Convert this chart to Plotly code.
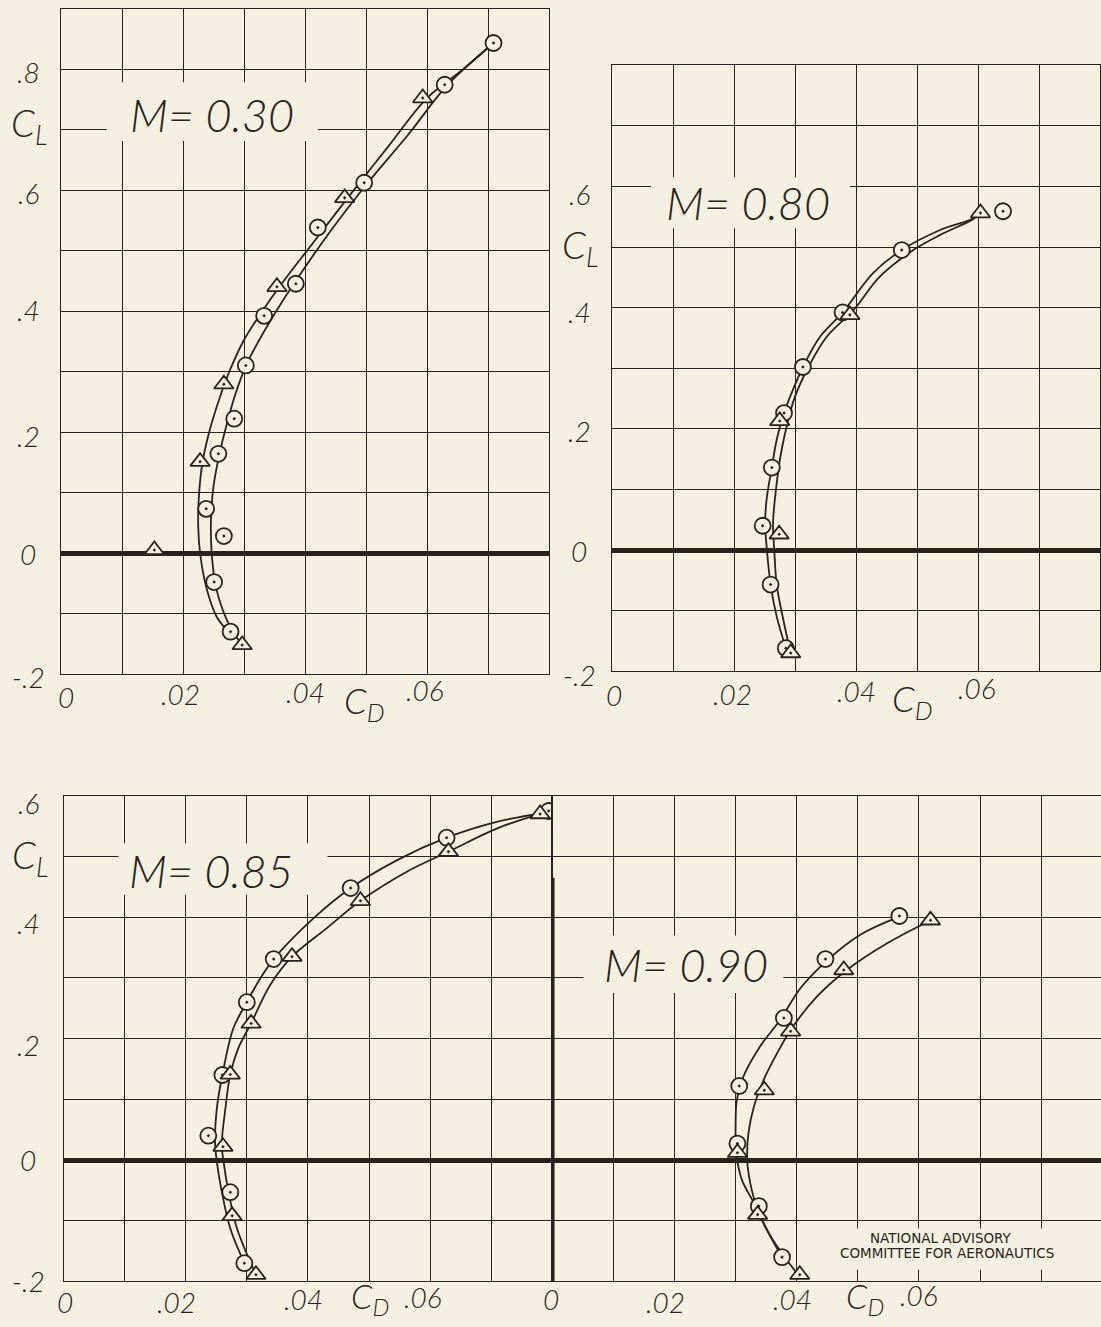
import plotly.graph_objects as go

W, H = 1101, 1327
BG = "#F5F1E2"
INK = "#272420"

# ---------------- M = 0.30 ----------------
m30_circle_cd = [0.0278, 0.0251, 0.0267, 0.0238, 0.0258, 0.0284, 0.0303, 0.0333, 0.0385, 0.0421, 0.0497, 0.0629, 0.0709]
m30_circle_cl = [-0.130, -0.048, 0.028, 0.073, 0.164, 0.222, 0.310, 0.392, 0.445, 0.538, 0.612, 0.774, 0.843]
m30_tri_cd = [0.0297, 0.0153, 0.0228, 0.0267, 0.0354, 0.0465, 0.0593]
m30_tri_cl = [-0.152, 0.005, 0.151, 0.279, 0.440, 0.587, 0.752]
m30_fair_a_cd = [0.0709, 0.0660, 0.0600, 0.0535, 0.0470, 0.0415, 0.0358, 0.0327, 0.0300, 0.0276, 0.0258, 0.0243, 0.0232, 0.0226, 0.0225, 0.0228, 0.0238, 0.0255, 0.0274]
m30_fair_a_cl = [0.843, 0.800, 0.752, 0.670, 0.587, 0.515, 0.440, 0.395, 0.352, 0.300, 0.250, 0.200, 0.150, 0.093, 0.043, 0.0, -0.056, -0.105, -0.130]
m30_fair_b_cd = [0.0709, 0.0634, 0.0568, 0.0503, 0.0444, 0.0385, 0.0353, 0.0325, 0.0303, 0.0285, 0.0271, 0.0259, 0.0250, 0.0246, 0.0247, 0.0254, 0.0272, 0.0295]
m30_fair_b_cl = [0.843, 0.774, 0.690, 0.612, 0.535, 0.450, 0.400, 0.352, 0.309, 0.260, 0.210, 0.160, 0.110, 0.060, 0.0, -0.056, -0.111, -0.150]

# ---------------- M = 0.80 ----------------
m80_circle_cd = [0.0285, 0.0260, 0.0247, 0.0262, 0.0282, 0.0313, 0.0378, 0.0475, 0.0641]
m80_circle_cl = [-0.162, -0.057, 0.040, 0.136, 0.226, 0.302, 0.392, 0.495, 0.559]
m80_tri_cd = [0.0293, 0.0274, 0.0275, 0.0390, 0.0604]
m80_tri_cl = [-0.170, 0.026, 0.213, 0.388, 0.556]
m80_fair_a_cd = [0.0604, 0.0592, 0.0538, 0.0475, 0.0428, 0.0378, 0.0341, 0.0313, 0.0292, 0.0282, 0.0270, 0.0262, 0.0254, 0.0251, 0.0254, 0.0260, 0.0270, 0.0285]
m80_fair_a_cl = [0.556, 0.547, 0.528, 0.495, 0.457, 0.392, 0.352, 0.302, 0.253, 0.226, 0.182, 0.136, 0.088, 0.044, 0.0, -0.057, -0.110, -0.162]
m80_fair_b_cd = [0.0604, 0.0592, 0.0538, 0.0494, 0.0439, 0.0396, 0.0352, 0.0322, 0.0300, 0.0289, 0.0278, 0.0270, 0.0264, 0.0266, 0.0270, 0.0281, 0.0293]
m80_fair_b_cl = [0.556, 0.546, 0.520, 0.495, 0.451, 0.396, 0.352, 0.302, 0.253, 0.215, 0.165, 0.110, 0.044, 0.0, -0.057, -0.116, -0.170]

# ---------------- M = 0.85 ----------------
m85_circle_cd = [0.0296, 0.0273, 0.0237, 0.0260, 0.0300, 0.0344, 0.0470, 0.0627, 0.0794]
m85_circle_cl = [-0.170, -0.053, 0.040, 0.140, 0.260, 0.331, 0.448, 0.531, 0.575]
m85_tri_cd = [0.0315, 0.0276, 0.0261, 0.0273, 0.0307, 0.0374, 0.0486, 0.0630, 0.0780]
m85_tri_cl = [-0.189, -0.092, 0.022, 0.141, 0.225, 0.335, 0.427, 0.508, 0.570]
m85_fair_a_cd = [0.0785, 0.0709, 0.0627, 0.0546, 0.0470, 0.0409, 0.0344, 0.0322, 0.0300, 0.0278, 0.0260, 0.0251, 0.0248, 0.0251, 0.0259, 0.0273, 0.0296]
m85_fair_a_cl = [0.572, 0.557, 0.531, 0.494, 0.448, 0.398, 0.331, 0.299, 0.260, 0.217, 0.140, 0.085, 0.030, -0.003, -0.052, -0.113, -0.170]
m85_fair_b_cd = [0.0785, 0.0709, 0.0630, 0.0562, 0.0486, 0.0431, 0.0374, 0.0338, 0.0307, 0.0286, 0.0273, 0.0265, 0.0259, 0.0262, 0.0270, 0.0284, 0.0315]
m85_fair_b_cl = [0.572, 0.546, 0.508, 0.475, 0.427, 0.382, 0.335, 0.288, 0.225, 0.184, 0.141, 0.085, 0.025, -0.003, -0.052, -0.113, -0.189]

# ---------------- M = 0.90 ----------------
m90_circle_cd = [0.0376, 0.0338, 0.0303, 0.0306, 0.0379, 0.0447, 0.0568]
m90_circle_cl = [-0.160, -0.076, 0.027, 0.122, 0.234, 0.331, 0.402]
m90_tri_cd = [0.0405, 0.0336, 0.0303, 0.0347, 0.0390, 0.0477, 0.0619]
m90_tri_cl = [-0.189, -0.090, 0.012, 0.115, 0.212, 0.313, 0.395]
m90_fair_a_cd = [0.0561, 0.0504, 0.0450, 0.0406, 0.0373, 0.0340, 0.0313, 0.0302, 0.0300, 0.0301, 0.0310, 0.0330, 0.0351, 0.0376]
m90_fair_a_cl = [0.398, 0.371, 0.329, 0.283, 0.231, 0.187, 0.138, 0.099, 0.055, 0.012, -0.032, -0.071, -0.115, -0.160]
m90_fair_b_cd = [0.0610, 0.0548, 0.0482, 0.0433, 0.0392, 0.0368, 0.0346, 0.0330, 0.0321, 0.0319, 0.0324, 0.0336, 0.0357, 0.0379, 0.0400]
m90_fair_b_cl = [0.390, 0.357, 0.313, 0.269, 0.217, 0.176, 0.132, 0.088, 0.044, 0.0, -0.038, -0.082, -0.125, -0.158, -0.186]

# axis tick text
cl_ticks_top_left = [".8", ".6", ".4", ".2", "0", "-.2"]
cl_ticks_top_right = [".6", ".4", ".2", "0", "-.2"]
cl_ticks_bottom = [".6", ".4", ".2", "0", "-.2"]
cd_ticks = ["0", ".02", ".04", ".06"]

LETTER = dict(family="Lato, 'DejaVu Sans', sans-serif", color=INK, style="italic", weight=300)


def font(size):
    return dict(LETTER, size=size)


def pfx(px):
    return px / W


def pfy(py):
    return 1 - py / H


fig = go.Figure()


def add_polar(xa, ya, curves, circ, tri):
    for cx, cy in curves:
        fig.add_trace(go.Scatter(x=cx, y=cy, xaxis=xa, yaxis=ya, mode="lines",
                                 line=dict(color=INK, width=1.8, shape="spline", smoothing=1.0),
                                 hoverinfo="skip"))
    fig.add_trace(go.Scatter(x=circ[0], y=circ[1], xaxis=xa, yaxis=ya, mode="markers",
                             marker=dict(symbol="circle-dot", size=16, color=BG,
                                         line=dict(color=INK, width=1.8))))
    fig.add_trace(go.Scatter(x=tri[0], y=tri[1], xaxis=xa, yaxis=ya, mode="markers",
                             marker=dict(symbol="triangle-up-dot", size=17, color=BG,
                                         line=dict(color=INK, width=1.8))))


add_polar("x", "y", [(m30_fair_a_cd, m30_fair_a_cl), (m30_fair_b_cd, m30_fair_b_cl)],
          (m30_circle_cd, m30_circle_cl), (m30_tri_cd, m30_tri_cl))
add_polar("x2", "y2", [(m80_fair_a_cd, m80_fair_a_cl), (m80_fair_b_cd, m80_fair_b_cl)],
          (m80_circle_cd, m80_circle_cl), (m80_tri_cd, m80_tri_cl))
add_polar("x3", "y3", [(m85_fair_a_cd, m85_fair_a_cl), (m85_fair_b_cd, m85_fair_b_cl)],
          (m85_circle_cd, m85_circle_cl), (m85_tri_cd, m85_tri_cl))
add_polar("x4", "y4", [(m90_fair_a_cd, m90_fair_a_cl), (m90_fair_b_cd, m90_fair_b_cl)],
          (m90_circle_cd, m90_circle_cl), (m90_tri_cd, m90_tri_cl))


def grid_axis(rng, dtick, domain, anchor, zeroline=True):
    return dict(range=rng, dtick=dtick, tick0=0, domain=domain, anchor=anchor,
                showgrid=True, gridcolor=INK, gridwidth=1.4,
                showline=True, linecolor=INK, linewidth=1.4, mirror=True,
                zeroline=zeroline, zerolinecolor=INK, zerolinewidth=4.5,
                ticks="", showticklabels=False, fixedrange=True)


fig.update_layout(
    width=W, height=H, margin=dict(l=0, r=0, t=0, b=0),
    paper_bgcolor=BG, plot_bgcolor=BG, showlegend=False,
    xaxis=grid_axis([0, 0.08], 0.01, [pfx(61), pfx(549)], "y"),
    yaxis=grid_axis([-0.2, 0.9], 0.1, [pfy(674), pfy(8.5)], "x"),
    xaxis2=grid_axis([0, 0.08], 0.01, [pfx(612), pfx(1100)], "y2"),
    yaxis2=grid_axis([-0.2, 0.8], 0.1, [pfy(671.2), pfy(65.2)], "x2"),
    xaxis3=grid_axis([0, 0.08], 0.01, [pfx(63.5), pfx(552.3)], "y3"),
    yaxis3=grid_axis([-0.2, 0.6], 0.1, [pfy(1281.4), pfy(795.8)], "x3"),
    xaxis4=grid_axis([0, 0.0898], 0.01, [pfx(552.3), 1.0], "y4", zeroline=False),
    yaxis4=grid_axis([-0.2, 0.6], 0.1, [pfy(1281.4), pfy(795.8)], "x4"),
)

shapes = []
# clear spaces in the grid behind the lettering
for xr, yr, x0, x1, y0, y1 in [
    ("x", "y", 0.0075, 0.0421, 0.681, 0.778),
    ("x2", "y2", 0.0064, 0.0390, 0.531, 0.615),
    ("x3", "y3", 0.0090, 0.0432, 0.437, 0.522),
    ("x4", "y4", 0.0051, 0.0378, 0.275, 0.370),
    ("x4", "y4", 0.0470, 0.0835, -0.181, -0.113),
]:
    shapes.append(dict(type="rect", xref=xr, yref=yr, x0=x0, x1=x1, y0=y0, y1=y1,
                       fillcolor=BG, line=dict(width=0), layer="between"))
# heavy CD-origin line of the right-hand lower grid
shapes.append(dict(type="line", xref="x4", yref="y4", x0=0, x1=0, y0=-0.2, y1=0.465,
                   line=dict(color=INK, width=4.5)))
fig.update_layout(shapes=shapes)

ann = []


def label(text, px, py, size=28):
    ann.append(dict(text=text, x=pfx(px), y=pfy(py), xref="paper", yref="paper",
                    showarrow=False, xanchor="center", yanchor="middle", font=font(size)))


# Mach number captions
ann.append(dict(text="M= 0.30", x=0.0247, y=0.724, xref="x", yref="y", showarrow=False, font=font(45)))
ann.append(dict(text="M= 0.80", x=0.0223, y=0.573, xref="x2", yref="y2", showarrow=False, font=font(45)))
ann.append(dict(text="M= 0.85", x=0.0242, y=0.476, xref="x3", yref="y3", showarrow=False, font=font(45)))
ann.append(dict(text="M= 0.90", x=0.0218, y=0.322, xref="x4", yref="y4", showarrow=False, font=font(45)))

# lift-coefficient scale, upper left
for t, py in zip(cl_ticks_top_left, [72, 193, 310, 436, 554, 677]):
    label(t, 28, py)
label("C<sub>L</sub>", 29, 125, 38)
# lift-coefficient scale, upper right
for t, py in zip(cl_ticks_top_right, [194, 312, 431, 551, 675]):
    label(t, 579, py)
label("C<sub>L</sub>", 580, 247, 38)
# lift-coefficient scale, lower
for t, py in zip(cl_ticks_bottom, [803, 923, 1045, 1160, 1281]):
    label(t, 28, py)
label("C<sub>L</sub>", 30, 857, 38)

# drag-coefficient scales
for xs, ys, cpos, csize in [
    ([66, 180, 305, 425], [697, 694, 692, 690], (364, 702), 36),
    ([614, 732, 857, 977], [695, 694, 691, 688], (912, 700), 36),
    ([65, 176, 303, 423], [1302, 1302, 1299, 1297], (370, 1298), 34),
    ([551, 665, 792, 919], [1299, 1302, 1299, 1295], (865, 1298), 34),
]:
    for t, px, py in zip(cd_ticks, xs, ys):
        label(t, px, py)
    label("C<sub>D</sub>", cpos[0], cpos[1], csize)

# credit block
for t, px, py in [("NATIONAL ADVISORY", 941, 1238), ("COMMITTEE FOR AERONAUTICS", 947, 1253)]:
    ann.append(dict(text=t, x=pfx(px), y=pfy(py), xref="paper", yref="paper", showarrow=False,
                    xanchor="center", yanchor="middle",
                    font=dict(family="DejaVu Sans, sans-serif", size=13.5, color=INK)))

fig.update_layout(annotations=ann)

fig.write_html("out.html")
